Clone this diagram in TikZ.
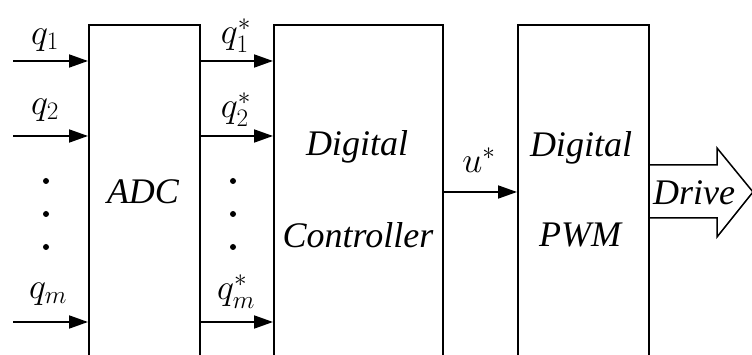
\RequirePackage{fix-cm}
\documentclass[tikz,border=0pt]{standalone}
\usepackage{fontspec}
\setmainfont{Liberation Serif}
\usetikzlibrary{arrows.meta}
\begin{document}
\begin{tikzpicture}[x=1pt,y=-1pt,line width=1.8pt,
  block/.style={draw,rectangle,anchor=north west,inner sep=0pt},
  sig/.style={-{Triangle[length=19pt,width=13pt]}},
  lbl/.style={inner sep=0pt,font=\fontsize{36}{40}\selectfont},
  txt/.style={inner sep=0pt,font=\fontsize{36}{40}\selectfont\itshape},
  dot/.style={circle,fill,inner sep=0pt,minimum size=6pt}]
\useasboundingbox (0,0) rectangle (752,355);
\clip (0,0) rectangle (752,355);

% blocks (they run past the lower edge)
\node[block,minimum width=111pt,minimum height=380pt] (adc) at (88,24) {};
\node[block,minimum width=169pt,minimum height=380pt] (ctl) at (273,24) {};
\node[block,minimum width=131pt,minimum height=380pt] (pwm) at (517,24) {};

\node[txt] (adct) at (143,192) {ADC};
\node[txt] (c1) at (357,147) {Digital};
\node[txt] (c2) at (358,235) {Controller};
\node[txt] (p1) at (581,148) {Digital};
\node[txt] (p2) at (580,235) {PWM};

% input signals
\coordinate (i1) at (13,61);
\coordinate (i2) at (13,136);
\coordinate (im) at (13,322);
\draw[sig] (i1) -- (i1 -| adc.west);
\draw[sig] (i2) -- (i2 -| adc.west);
\draw[sig] (im) -- (im -| adc.west);
\node[lbl] (q1) at (45,40) {$q_1$};
\node[lbl] (q2) at (45,110) {$q_2$};
\node[lbl] (qm) at (48,294) {$q_m$};
\node[dot] (d1) at (46,181) {};
\node[dot] (d2) at (46,214) {};
\node[dot] (d3) at (46,247) {};

% sampled signals
\coordinate (o1) at (199,61);
\coordinate (o2) at (199,136);
\coordinate (om) at (199,322);
\draw[sig] (o1) -- (o1 -| ctl.west);
\draw[sig] (o2) -- (o2 -| ctl.west);
\draw[sig] (om) -- (om -| ctl.west);
\node[lbl] (s1) at (236,36) {$q_1^*$};
\node[lbl] (s2) at (236,110) {$q_2^*$};
\node[lbl] (sm) at (236,292) {$q_m^*$};
\node[dot] (e1) at (233,181) {};
\node[dot] (e2) at (233,214) {};
\node[dot] (e3) at (233,247) {};

% control output
\coordinate (u) at (442,192);
\draw[sig] (u) -- (u -| pwm.west);
\node[lbl] (ut) at (479,160) {$u^*$};

% drive output arrow
\coordinate (da) at (648,165);
\coordinate (db) at (648,218);
\draw[line width=1.5pt,line join=miter] (da) -- (717,165) -- (717,148) -- (753,192)
  -- (717,237) -- (717,218) -- (db);
\node[txt] (dr) at (694,193) {Drive};
\end{tikzpicture}
\end{document}
